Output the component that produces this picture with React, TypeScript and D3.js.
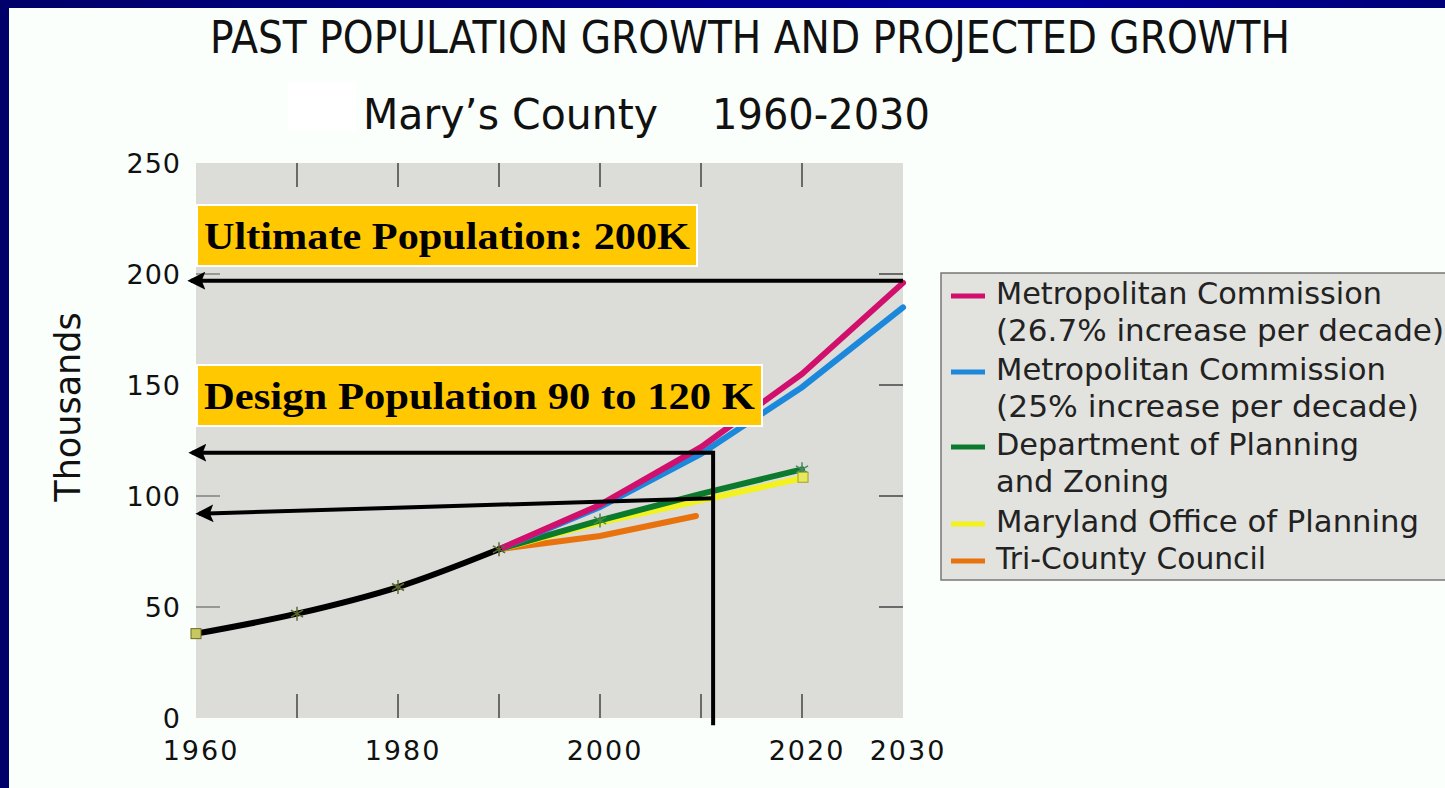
import React, { useEffect, useRef } from "react";
import * as d3 from "d3";

const years = [1960, 1970, 1980, 1990, 2000, 2010, 2020, 2030];
const xLabels = [1960, 1980, 2000, 2020, 2030];
const yTicks = [0, 50, 100, 150, 200, 250];

const pastYears = [1960, 1970, 1980, 1990];
const pastValues = [38, 47, 59, 76];

const metro267Years = [1990, 2000, 2010, 2020, 2030];
const metro267Values = [76, 96, 122, 155, 196];
const metro25Years = [1990, 2000, 2010, 2020, 2030];
const metro25Values = [76, 95, 119, 149, 185];
const planningYears = [1990, 2000, 2010, 2020];
const planningValues = [76, 89, 101, 112];
const marylandYears = [1990, 2000, 2010, 2020];
const marylandValues = [76, 88, 98, 108];
const triCountyYears = [1990, 2000, 2009.5];
const triCountyValues = [76, 82, 91];

const legendLabels = [
  ["Metropolitan Commission", "(26.7% increase per decade)"],
  ["Metropolitan Commission", "(25% increase per decade)"],
  ["Department of Planning", "and Zoning"],
  ["Maryland Office of Planning"],
  ["Tri-County Council"],
];

type Pt = { year: number; value: number };
const zip = (ys: number[], vs: number[]): Pt[] => ys.map((y, i) => ({ year: y, value: vs[i] }));

const App: React.FC = () => {
  const svgRef = useRef<SVGSVGElement | null>(null);

  useEffect(() => {
    if (!svgRef.current) return;
    const W = 1445;
    const H = 788;
    const svg = d3.select(svgRef.current).attr("width", W).attr("height", H);
    svg.selectAll("*").remove();

    // slide background
    const defs = svg.append("defs");
    const bg = defs.append("linearGradient").attr("id", "bgGrad").attr("x1", "0%").attr("x2", "100%");
    bg.append("stop").attr("offset", "0%").attr("stop-color", "#00006a");
    bg.append("stop").attr("offset", "70%").attr("stop-color", "#0000a0");
    bg.append("stop").attr("offset", "100%").attr("stop-color", "#000078");
    svg.append("rect").attr("width", W).attr("height", H).attr("fill", "url(#bgGrad)");
    svg.append("rect").attr("x", 9).attr("y", 8).attr("width", W - 9).attr("height", H - 8).attr("fill", "#fbfffb");

    const sans = "'DejaVu Sans', sans-serif";

    // titles
    svg.append("text")
      .attr("x", 210).attr("y", 53)
      .attr("font-family", sans).attr("font-size", 44)
      .attr("textLength", 1080).attr("lengthAdjust", "spacingAndGlyphs")
      .attr("fill", "#111")
      .text("PAST POPULATION GROWTH AND PROJECTED GROWTH");
    svg.append("rect").attr("x", 288).attr("y", 82).attr("width", 68).attr("height", 48).attr("fill", "#ffffff");
    svg.append("text")
      .attr("x", 363).attr("y", 129)
      .attr("font-family", sans).attr("font-size", 42)
      .attr("textLength", 295).attr("lengthAdjust", "spacingAndGlyphs")
      .attr("fill", "#111")
      .text("Mary\u2019s County");
    svg.append("text")
      .attr("x", 712).attr("y", 129)
      .attr("font-family", sans).attr("font-size", 42)
      .attr("textLength", 218).attr("lengthAdjust", "spacingAndGlyphs")
      .attr("fill", "#111")
      .text("1960-2030");

    const left = 196, right = 903, top = 163, bottom = 718;
    const x = d3.scaleLinear().domain([1960, 2030]).range([left, right]);
    const y = d3.scaleLinear().domain([0, 250]).range([bottom, top]);

    svg.append("rect")
      .attr("x", left).attr("y", top)
      .attr("width", right - left).attr("height", bottom - top)
      .attr("fill", "#dcdcd8");

    // inward ticks on all four sides
    const tickLen = 24;
    const inner = years.slice(1, -1);
    const tg = svg.append("g").attr("stroke", "#6a6a6a").attr("stroke-width", 2);
    inner.forEach((yr) => {
      tg.append("line").attr("x1", x(yr)).attr("x2", x(yr)).attr("y1", bottom).attr("y2", bottom - tickLen);
      tg.append("line").attr("x1", x(yr)).attr("x2", x(yr)).attr("y1", top).attr("y2", top + tickLen);
    });
    yTicks.slice(1, -1).forEach((v) => {
      tg.append("line").attr("x1", right).attr("x2", right - tickLen).attr("y1", y(v)).attr("y2", y(v));
      tg.append("line").attr("x1", left).attr("x2", left + tickLen).attr("y1", y(v)).attr("y2", y(v)).attr("opacity", 0.6);
    });

    // tick labels
    yTicks.forEach((v) => {
      svg.append("text")
        .attr("x", 181).attr("y", y(v) + 10)
        .attr("text-anchor", "end")
        .attr("font-family", sans).attr("font-size", 27)
        .attr("letter-spacing", 1)
        .attr("fill", "#111")
        .text(String(v));
    });
    xLabels.forEach((yr) => {
      svg.append("text")
        .attr("x", x(yr) + 5).attr("y", 760)
        .attr("text-anchor", "middle")
        .attr("font-family", sans).attr("font-size", 27)
        .attr("letter-spacing", 2)
        .attr("fill", "#111")
        .text(String(yr));
    });

    svg.append("text")
      .attr("transform", `translate(80,${407}) rotate(-90)`)
      .attr("text-anchor", "middle")
      .attr("font-family", sans).attr("font-size", 35)
      .attr("fill", "#111")
      .text("Thousands");

    // series
    const line = d3.line<Pt>().x((d) => x(d.year)).y((d) => y(d.value));
    const series = [
      { data: zip(triCountyYears, triCountyValues), color: "#e8720e" },
      { data: zip(marylandYears, marylandValues), color: "#f2f21e" },
      { data: zip(planningYears, planningValues), color: "#0b7a2c" },
      { data: zip(metro25Years, metro25Values), color: "#1c88dc" },
      { data: zip(metro267Years, metro267Values), color: "#d0106c" },
    ];
    series.forEach((s) => {
      svg.append("path").datum(s.data)
        .attr("fill", "none").attr("stroke", s.color)
        .attr("stroke-width", 6).attr("stroke-linecap", "round")
        .attr("d", line);
    });
    const pastLine = d3.line<Pt>().x((d) => x(d.year)).y((d) => y(d.value)).curve(d3.curveMonotoneX);
    const past = zip(pastYears, pastValues);
    svg.append("path").datum(past)
      .attr("fill", "none").attr("stroke", "#000")
      .attr("stroke-width", 6).attr("stroke-linecap", "round")
      .attr("d", pastLine);

    // small star markers
    const star = (cx: number, cy: number, color: string) => {
      const g = svg.append("g").attr("stroke", color).attr("stroke-width", 1.5);
      [0, 60, 120].forEach((a) => {
        const r = (a * Math.PI) / 180;
        g.append("line")
          .attr("x1", cx - 7 * Math.sin(r)).attr("y1", cy - 7 * Math.cos(r))
          .attr("x2", cx + 7 * Math.sin(r)).attr("y2", cy + 7 * Math.cos(r));
      });
    };
    past.slice(1).forEach((d) => star(x(d.year), y(d.value), "#5a6a30"));
    star(x(2000), y(planningValues[1]), "#4a8a40");
    star(x(2020), y(planningValues[3]), "#4a8a60");
    svg.append("rect").attr("x", x(1960) - 5).attr("y", y(pastValues[0]) - 5)
      .attr("width", 10).attr("height", 10).attr("fill", "#c8c860").attr("stroke", "#6a6a20");
    svg.append("rect").attr("x", x(2020) - 4).attr("y", y(marylandValues[3]) - 6)
      .attr("width", 10).attr("height", 10).attr("fill", "#e8e860").attr("stroke", "#a0a020");

    // annotation arrows
    defs.append("marker")
      .attr("id", "arrow").attr("viewBox", "0 0 10 10")
      .attr("refX", 8).attr("refY", 5)
      .attr("markerWidth", 4.5).attr("markerHeight", 4.5)
      .attr("orient", "auto")
      .append("path").attr("d", "M0,0 L10,5 L0,10 L2,5 Z").attr("fill", "#000");

    const arrows = [
      { x1: 2030, y1: 197, x2: 1959.5, y2: 197 },
      { x1: 2011.2, y1: 119.5, x2: 1959.6, y2: 119.5 },
      { x1: 2011.2, y1: 99, x2: 1960.3, y2: 92 },
    ];
    arrows.forEach((a) => {
      svg.append("line")
        .attr("x1", x(a.x1)).attr("y1", y(a.y1))
        .attr("x2", x(a.x2)).attr("y2", y(a.y2))
        .attr("stroke", "#000").attr("stroke-width", 4)
        .attr("marker-end", "url(#arrow)");
    });
    svg.append("line")
      .attr("x1", x(2011.2)).attr("x2", x(2011.2))
      .attr("y1", y(119.5) - 2).attr("y2", y(-3.3))
      .attr("stroke", "#000").attr("stroke-width", 4);

    // yellow callouts
    const callouts = [
      { label: "Ultimate Population: 200K", y0: 205, w: 500 },
      { label: "Design Population 90 to 120 K", y0: 365, w: 565 },
    ];
    callouts.forEach((c) => {
      svg.append("rect")
        .attr("x", 197).attr("y", c.y0).attr("width", c.w).attr("height", 61)
        .attr("fill", "#ffc800").attr("stroke", "#ffffff").attr("stroke-width", 2);
      svg.append("text")
        .attr("x", 204).attr("y", c.y0 + 44)
        .attr("font-family", "'Liberation Serif', 'Times New Roman', serif")
        .attr("font-weight", "bold").attr("font-size", 38)
        .attr("textLength", c.w - 14).attr("lengthAdjust", "spacingAndGlyphs")
        .attr("fill", "#000")
        .text(c.label);
    });

    // legend
    svg.append("rect")
      .attr("x", 941).attr("y", 273).attr("width", 520).attr("height", 307)
      .attr("fill", "#e2e2de").attr("stroke", "#777").attr("stroke-width", 1.5);
    const legendColors = ["#d0106c", "#1c88dc", "#0b7a2c", "#f2f21e", "#e8720e"];
    const rowY = [293, 369, 444, 521, 558];
    const textWidths = [[386, 448], [390, 423], [363, 173], [423], [270]];
    legendLabels.forEach((lines, i) => {
      svg.append("line")
        .attr("x1", 951).attr("x2", 985)
        .attr("y1", rowY[i] + 3).attr("y2", rowY[i] + 3)
        .attr("stroke", legendColors[i]).attr("stroke-width", 5);
      lines.forEach((t, j) => {
        svg.append("text")
          .attr("x", 996).attr("y", rowY[i] + 11 + j * 37)
          .attr("font-family", sans).attr("font-size", 30)
          .attr("textLength", textWidths[i][j]).attr("lengthAdjust", "spacingAndGlyphs")
          .attr("fill", "#222")
          .text(t);
      });
    });
  }, []);

  return (
    <svg
      ref={svgRef}
      style={{ position: "absolute", left: 0, top: 0, display: "block" }}
    ></svg>
  );
};

export default App;
